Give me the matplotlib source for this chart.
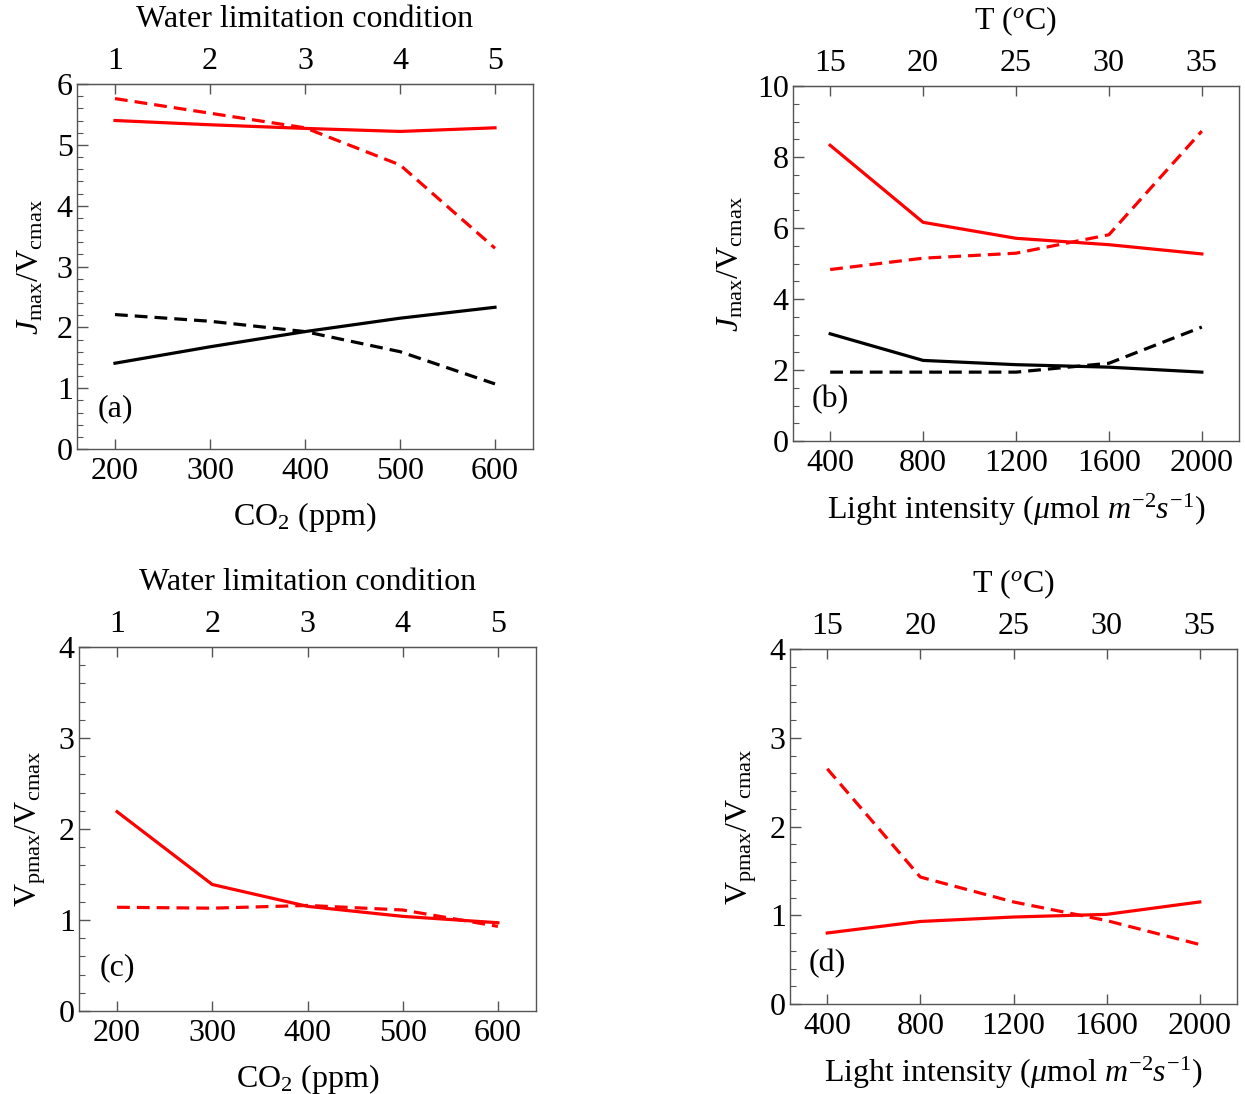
import matplotlib
matplotlib.use("Agg")
import matplotlib.pyplot as plt
from matplotlib.ticker import MultipleLocator, FixedLocator
import numpy as np

plt.rcParams['font.family'] = ['Liberation Serif', 'DejaVu Serif']
plt.rcParams['mathtext.fontset'] = 'custom'
plt.rcParams['mathtext.rm'] = 'Liberation Serif'
plt.rcParams['mathtext.it'] = 'Liberation Serif:italic'
plt.rcParams['mathtext.bf'] = 'Liberation Serif:bold'

# ---------------- data ----------------
co2 = [200, 300, 400, 500, 600]
water_cond = ['1', '2', '3', '4', '5']
light = [400, 800, 1200, 1600, 2000]
temp = ['15', '20', '25', '30', '35']

# panel (a): Jmax/Vcmax vs CO2
a_red_solid = [5.40, 5.33, 5.27, 5.22, 5.28]
a_red_dash = [5.76, 5.52, 5.28, 4.67, 3.30]
a_blk_solid = [1.41, 1.68, 1.93, 2.15, 2.33]
a_blk_dash = [2.21, 2.10, 1.93, 1.60, 1.07]

# panel (b): Jmax/Vcmax vs light
b_red_solid = [8.33, 6.16, 5.71, 5.53, 5.27]
b_red_dash = [4.83, 5.15, 5.29, 5.81, 8.73]
b_blk_solid = [3.02, 2.27, 2.15, 2.08, 1.94]
b_blk_dash = [1.94, 1.94, 1.94, 2.19, 3.21]

# panel (c): Vpmax/Vcmax vs CO2
c_red_solid = [2.19, 1.39, 1.15, 1.04, 0.97]
c_red_dash = [1.14, 1.13, 1.16, 1.11, 0.93]

# panel (d): Vpmax/Vcmax vs light
d_red_solid = [0.80, 0.93, 0.98, 1.01, 1.15]
d_red_dash = [2.65, 1.43, 1.15, 0.94, 0.67]

W, H = 1245, 1094
fig = plt.figure(figsize=(W / 100, H / 100), dpi=100)

FS = 23
FRAME = '#555555'
LW = 2.3
DASH = (4.0, 2.2)


def px(l, t, r, b):
    return [l / W, 1 - b / H, (r - l) / W, (b - t) / H]


def setup(ax, x, ylim, ymajor, yminor, ylabel, xlabel, top_labels, top_title, tag, tagy):
    rng = x[-1] - x[0]
    ax.set_xlim(x[0] - 0.1 * rng, x[-1] + 0.1 * rng)
    ax.set_ylim(*ylim)
    for s in ax.spines.values():
        s.set_color(FRAME)
        s.set_linewidth(1.0)
    ax.xaxis.set_major_locator(FixedLocator(x))
    ax.set_xticklabels([str(v) for v in x])
    ax.yaxis.set_major_locator(MultipleLocator(ymajor))
    ax.yaxis.set_minor_locator(MultipleLocator(yminor))
    ax.tick_params(axis='x', which='major', direction='in', length=7, width=1.0,
                   color=FRAME, labelsize=FS, pad=6, top=False)
    ax.tick_params(axis='x', which='minor', bottom=False, top=False)
    ax.tick_params(axis='y', which='major', direction='in', length=8, width=1.0,
                   color=FRAME, labelsize=FS, pad=3, right=False)
    ax.tick_params(axis='y', which='minor', direction='in', length=4, width=0.8,
                   color=FRAME, right=False)
    ax.set_ylabel(ylabel, fontsize=FS, labelpad=8)
    ax.set_xlabel(xlabel, fontsize=FS, labelpad=10)
    # top axis (same positions as bottom ticks)
    top = ax.secondary_xaxis('top')
    top.xaxis.set_major_locator(FixedLocator(x))
    top.set_xticklabels(top_labels)
    top.tick_params(axis='x', direction='in', length=7, width=1.0, color=FRAME,
                    labelsize=FS, pad=6)
    top.spines['top'].set_color(FRAME)
    top.set_xlabel(top_title, fontsize=FS, labelpad=14)
    ax.text(x[0], tagy, tag, fontsize=FS, ha='center', va='center')


ylab_J = r'$J_{\mathrm{max}}/\mathrm{V}_{\mathrm{cmax}}$'
ylab_V = r'$\mathrm{V}_{\mathrm{pmax}}/\mathrm{V}_{\mathrm{cmax}}$'
xlab_co2 = r'CO$_2$ (ppm)'
xlab_light = r'Light intensity ($\mu$mol $m^{-2}s^{-1}$)'
top_T = r'T ($^{o}$C)'
top_W = 'Water limitation condition'

# (a)
ax = fig.add_axes(px(77, 84, 533, 449))
ax.plot(co2, a_red_solid, color='red', lw=LW)
ax.plot(co2, a_red_dash, color='red', lw=LW, dashes=DASH)
ax.plot(co2, a_blk_solid, color='black', lw=LW)
ax.plot(co2, a_blk_dash, color='black', lw=LW, dashes=DASH)
setup(ax, co2, (0, 6), 1, 0.2, ylab_J, xlab_co2, water_cond, top_W, '(a)', 0.66)

# (b)
ax = fig.add_axes(px(793, 86, 1239, 441))
ax.plot(light, b_red_solid, color='red', lw=LW)
ax.plot(light, b_red_dash, color='red', lw=LW, dashes=DASH)
ax.plot(light, b_blk_solid, color='black', lw=LW)
ax.plot(light, b_blk_dash, color='black', lw=LW, dashes=DASH)
setup(ax, light, (0, 10), 2, 0.5, ylab_J, xlab_light, temp, top_T, '(b)', 1.16)

# (c)
ax = fig.add_axes(px(79, 647, 536, 1011))
ax.plot(co2, c_red_solid, color='red', lw=LW)
ax.plot(co2, c_red_dash, color='red', lw=LW, dashes=DASH)
setup(ax, co2, (0, 4), 1, 0.2, ylab_V, xlab_co2, water_cond, top_W, '(c)', 0.48)

# (d)
ax = fig.add_axes(px(790, 649, 1237, 1004))
ax.plot(light, d_red_solid, color='red', lw=LW)
ax.plot(light, d_red_dash, color='red', lw=LW, dashes=DASH)
setup(ax, light, (0, 4), 1, 0.2, ylab_V, xlab_light, temp, top_T, '(d)', 0.46)

fig.savefig('out.png', dpi=100)
